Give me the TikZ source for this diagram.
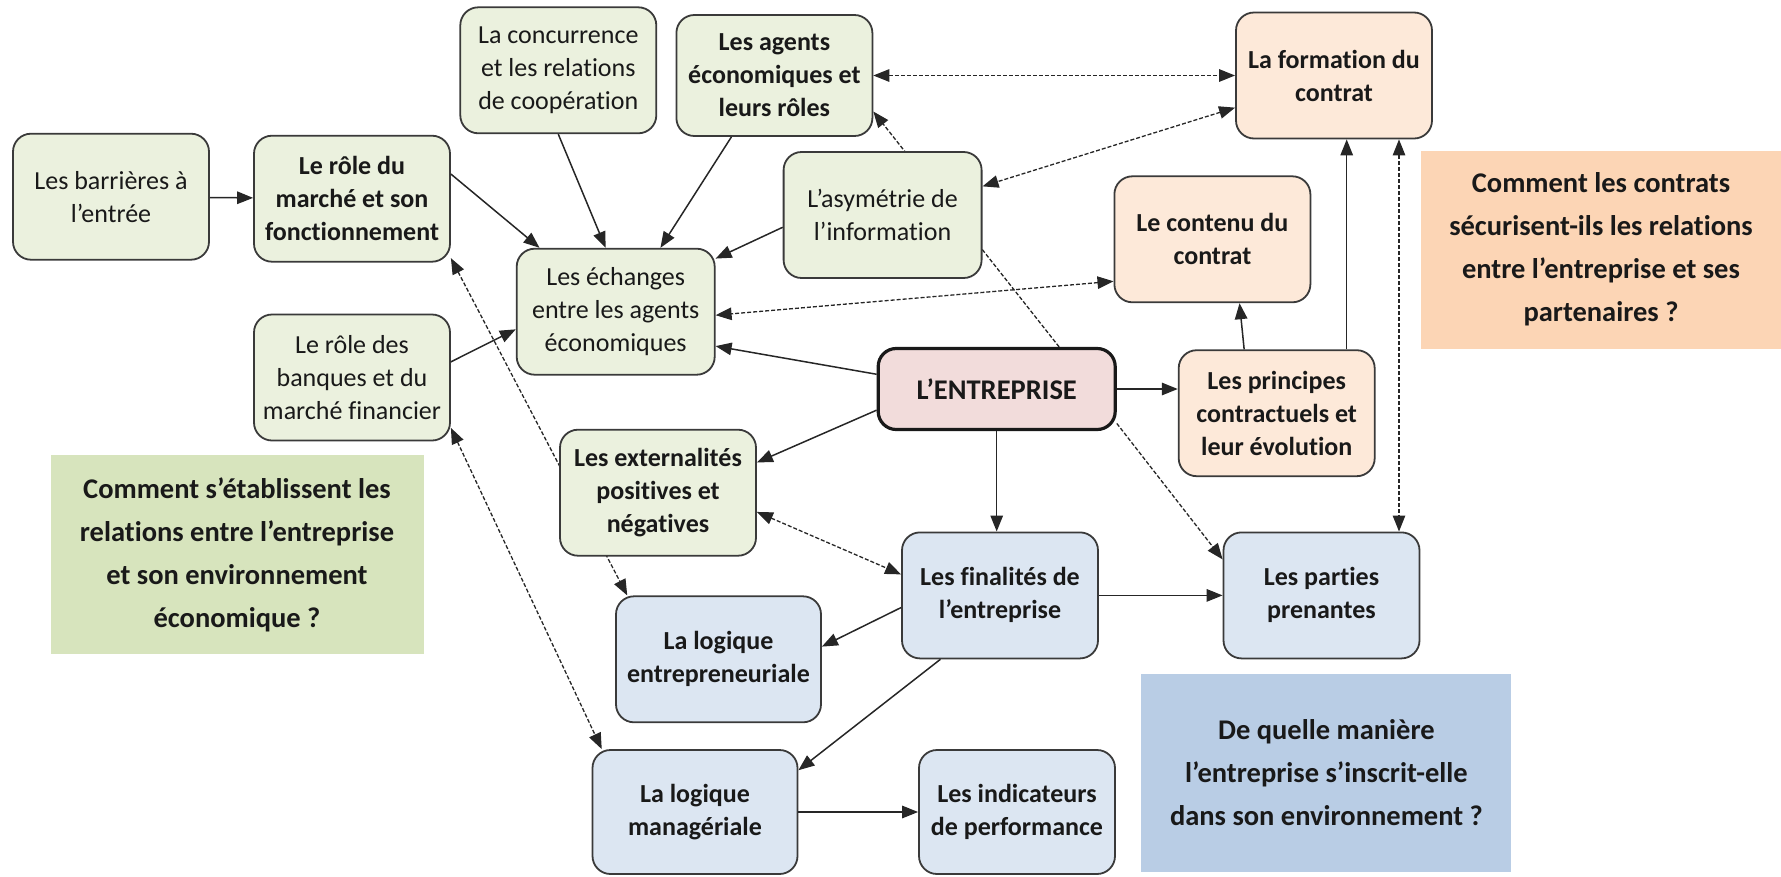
\documentclass[tikz,border=0pt]{standalone}
\usepackage{fontspec}
\setmainfont{Carlito}[Ligatures={NoCommon,NoRare,NoContextual}, Contextuals=NoAlternate]
\usepackage{tikz}
\usetikzlibrary{arrows.meta,backgrounds}
\definecolor{vertclair}{HTML}{EBF1DE}
\definecolor{orangeclair}{HTML}{FDE9D9}
\definecolor{bleuclair}{HTML}{DCE6F2}
\definecolor{roseclair}{HTML}{F2DCDB}
\definecolor{vertq}{HTML}{D7E4BD}
\definecolor{orangeq}{HTML}{FCD5B5}
\definecolor{bleuq}{HTML}{B9CDE5}
\definecolor{bord}{HTML}{3A3A3A}
\definecolor{trait}{HTML}{262626}
\tikzset{
  box/.style={draw=bord, line width=1.8pt, rounded corners=18pt, align=center,
    minimum width=196pt, minimum height=126pt, inner sep=2pt, text=black!90,
    font=\fontsize{26}{33}\selectfont},
  boxV/.style={box, fill=vertclair},
  boxVb/.style={boxV, font=\fontsize{26}{33}\selectfont\bfseries},
  boxO/.style={box, fill=orangeclair, font=\fontsize{26}{33}\selectfont\bfseries},
  boxB/.style={box, fill=bleuclair, font=\fontsize{26}{33}\selectfont\bfseries},
  boxE/.style={box, fill=roseclair, draw=black!90, line width=3.2pt,
    font=\fontsize{28.5}{34}\selectfont\bfseries},
  quest/.style={align=center, inner sep=0pt, text=black!90,
    font=\fontsize{28.5}{43}\selectfont\bfseries},
  arrow/.style={->, >={Triangle[length=16pt,width=12.5pt]}, line width=1.5pt, draw=trait},
  darrow/.style={arrow, dash pattern=on 4pt off 2pt, line width=1.3pt},
  ddarrow/.style={darrow, <->}
}

\begin{document}
\begin{tikzpicture}[x=1pt, y=-1pt]
  \useasboundingbox (0,0) rectangle (1781,876);
  \node[quest, fill=vertq, minimum width=373pt, minimum height=199pt] (qEco) at (237, 554.7) {Comment s’établissent les\\relations entre l’entreprise\\et son environnement\\économique ?};
  \node[quest, fill=orangeq, minimum width=360pt, minimum height=198pt] (qContr) at (1601, 249.5) {Comment les contrats\\sécurisent-ils les relations\\entre l’entreprise et ses\\partenaires ?};
  \node[quest, fill=bleuq, minimum width=370pt, minimum height=198pt] (qEnv) at (1326.4, 772.5) {De quelle manière\\l’entreprise s’inscrit-elle\\dans son environnement ?};

  \node[boxV] (barr) at (111, 196.7) {Les barrières à\\l’entrée};
  \node[boxVb] (roleM) at (352, 198.7) {Le rôle du\\marché et son\\fonctionnement};
  \node[boxV] (conc) at (558.3, 70.3) {La concurrence\\et les relations\\de coopération};
  \node[boxVb, minimum height=121pt] (agents) at (774.4, 75.5) {Les agents\\économiques et\\leurs rôles};
  \node[boxV, minimum width=198pt] (ech) at (615.7, 311.7) {Les échanges\\entre les agents\\économiques};
  \node[boxV] (banq) at (352, 377.5) {Le rôle des\\banques et du\\marché financier};
  \node[boxV, minimum width=198pt] (asym) at (882.6, 215) {L’asymétrie de\\l’information};
  \node[boxVb] (ext) at (658, 492.7) {Les externalités\\positives et\\négatives};

  \node[boxO] (form) at (1334, 75.5) {La formation du\\contrat};
  \node[boxO] (cont) at (1212.4, 239.3) {Le contenu du\\contrat};
  \node[boxO] (princ) at (1276.7, 413.2) {Les principes\\contractuels et\\leur évolution};
  \node[boxE, minimum width=237pt, minimum height=81pt] (ent) at (996.7, 389) {L’ENTREPRISE};

  \node[boxB] (fin) at (1000, 595.4) {Les finalités de\\l’entreprise};
  \node[boxB] (pp) at (1321.5, 595.4) {Les parties\\prenantes};
  \node[boxB, minimum width=205pt] (logE) at (718.5, 659.3) {La logique\\entrepreneuriale};
  \node[boxB, minimum width=205pt, minimum height=124pt] (logM) at (695, 812) {La logique\\managériale};
  \node[boxB, minimum height=124pt] (ind) at (1017, 812) {Les indicateurs\\de performance};

  \draw[arrow] (barr) -- (roleM);
  \draw[arrow] (roleM.14) -- (ech.140);
  \draw[arrow] (conc.south) -- (ech.99);
  \draw[arrow] (agents.-125) -- (ech.55);
  \draw[arrow] (asym.187) -- (ech.28);
  \draw[arrow] (banq.9) -- (ech.190);
  \draw[arrow] (ent.173) -- (ech.-19);
  \draw[arrow] (ent.190) -- (ext.17);
  \draw[arrow] (ent.east) -- (ent.east -| princ.west);
  \draw[arrow] (ent.south) -- (ent.south |- fin.north);
  \draw[darrow] (ent.-16) -- (pp.160);
  \draw[arrow] (princ.117) -- (cont.-67);
  \draw[arrow] ([xshift=70pt]princ.north) -- ([xshift=70pt]princ.north |- form.south);
  \draw[ddarrow] ([xshift=65pt]form.south) -- ([xshift=65pt]form.south |- pp.north);
  \draw[ddarrow] (agents.east) -- (agents.east -| form.west);
  \draw[ddarrow] (form.198) -- (asym.16);
  \draw[ddarrow] (cont.203) -- (ech.-2);
  \draw[ddarrow] (ext.-11) -- (fin.168);
  \draw[arrow] (fin.187) -- (logE.7);
  \draw[arrow] (fin.-133) -- (logM.22);
  \draw[arrow] (fin) -- (pp);
  \draw[arrow] (logM) -- (ind);
  \draw[ddarrow] (banq.-27) -- (logM.146);
  \begin{scope}[on background layer]
    \draw[darrow] (ent.34) -- (agents.-20);
    \draw[ddarrow] (roleM.-31) -- (logE.145);
  \end{scope}
\end{tikzpicture}
\end{document}
